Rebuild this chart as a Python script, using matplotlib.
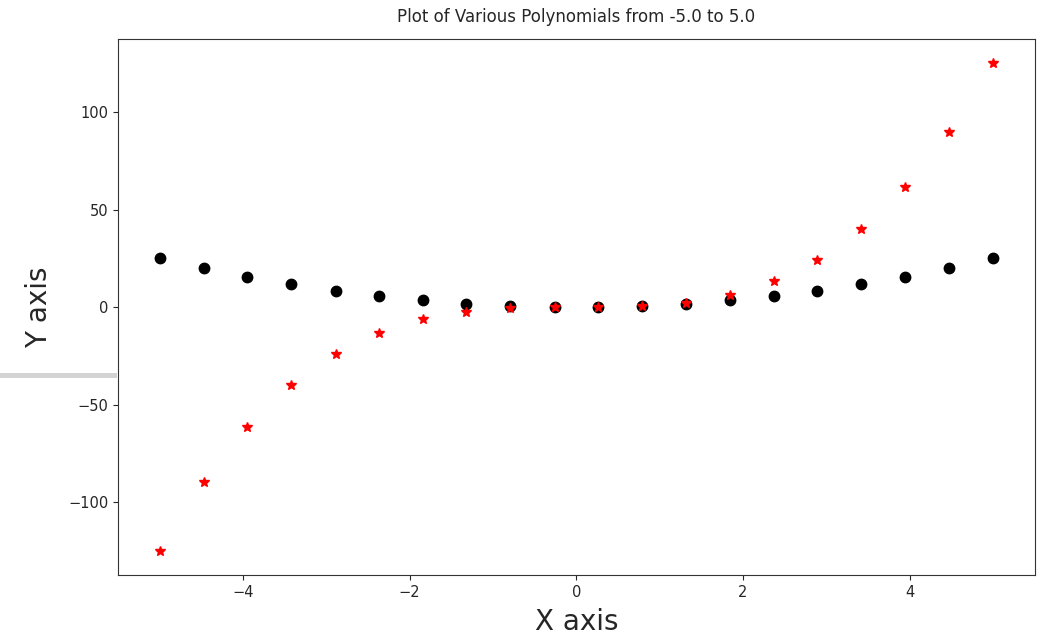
import numpy as np
import matplotlib
matplotlib.use("Agg")
import matplotlib.pyplot as plt
from matplotlib.patches import Rectangle

# valores
x_vals = [-5.0, -4.47, -3.95, -3.42, -2.89, -2.37, -1.84, -1.32, -0.79, -0.26,
          0.26, 0.79, 1.32, 1.84, 2.37, 2.89, 3.42, 3.95, 4.47, 5.0]
y_cuadrado = [25.0, 20.0, 15.6, 11.7, 8.4, 5.6, 3.4, 1.7, 0.6, 0.1,
              0.1, 0.6, 1.7, 3.4, 5.6, 8.4, 11.7, 15.6, 20.0, 25.0]
y_cubo = [-125.0, -89.5, -61.5, -40.0, -24.3, -13.3, -6.2, -2.3, -0.5, -0.0,
          0.0, 0.5, 2.3, 6.2, 13.3, 24.3, 40.0, 61.5, 89.5, 125.0]

texto = '#262626'
plt.rcParams['text.color'] = texto
plt.rcParams['axes.labelcolor'] = texto
plt.rcParams['xtick.color'] = texto
plt.rcParams['ytick.color'] = texto

fig = plt.figure(figsize=(10.45, 6.37), dpi=100)
ax = fig.add_axes([0.113, 0.097, 0.877, 0.842])

ax.plot(x_vals, y_cuadrado, 'ko', markersize=7.5)
ax.plot(x_vals, y_cubo, 'r*', markersize=7.5)

ax.set_title("Plot of Various Polynomials from -5.0 to 5.0", fontsize=12, pad=12)
ax.set_xlabel("X axis", fontsize=20, labelpad=6)
ax.set_ylabel("Y axis", fontsize=20, labelpad=11)
ax.tick_params(labelsize=10.5)
for lado in ax.spines.values():
    lado.set_color('#333333')

# barra gris a la izquierda (artefacto de la captura)
fig.add_artist(Rectangle((0, 1 - 378 / 637), 117 / 1045, 5 / 637,
                         transform=fig.transFigure, color='#d3d3d3', lw=0))

fig.savefig("out.png", dpi=100)
